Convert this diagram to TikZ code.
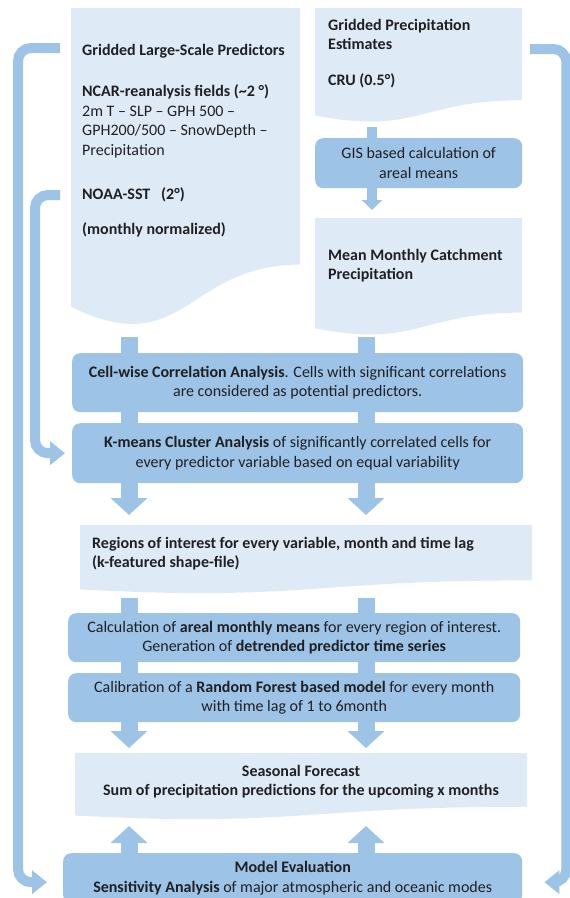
\documentclass[tikz,border=0pt]{standalone}
\usepackage{fontspec}
\setmainfont{Carlito}
\usetikzlibrary{calc,arrows.meta}

\definecolor{boxblue}{RGB}{157,195,230}
\definecolor{docblue}{RGB}{222,235,247}
\definecolor{inkgray}{RGB}{32,32,36}

% wavy bottom of a document node
\newcommand{\docbg}[1]{%
  \fill[docblue] (#1.north west) -- (#1.north east)
    -- ($(#1.north east)!0.802!(#1.south east)$)
    .. controls ($(#1.north)!0.802!(#1.south)$) and ($(#1.north)!1.107!(#1.south)$)
    .. ($(#1.north west)!0.934!(#1.south west)$) -- cycle;}

\begin{document}
\begin{tikzpicture}[x=1pt,y=-1pt,
  font=\fontsize{16}{19.5}\selectfont, text=inkgray,
  docframe/.style={anchor=north west, inner sep=0pt, outer sep=0pt},
  doctext/.style={anchor=north west, inner sep=0pt, align=left},
  box/.style={anchor=north west, fill=boxblue, rounded corners=8pt, align=center, inner sep=0pt},
  biglink/.style={boxblue, line width=17pt},
  bigflow/.style={biglink, -{Triangle[width=36pt,length=17pt]}},
  smalllink/.style={boxblue, line width=10pt},
  smallflow/.style={smalllink, -{Triangle[width=20pt,length=10pt]}},
  feedback/.style={boxblue, line width=10pt, rounded corners=13pt, -{Triangle[width=23pt,length=15pt]}}]

\useasboundingbox (0,0) rectangle (570,898);

% Documents
\node[docframe, minimum width=229pt, minimum height=320pt] (gp) at (71,8) {};
\node[docframe, minimum width=207pt, minimum height=115pt] (gpe) at (315,8) {};
\node[docframe, minimum width=207pt, minimum height=118pt] (mmp) at (315,218) {};
\node[docframe, minimum width=452pt, minimum height=69pt] (roi) at (80,525) {};
\node[docframe, minimum width=452pt, minimum height=67pt] (sf) at (75,753) {};

\foreach \d in {gp,gpe,mmp,roi,sf}
  \docbg{\d};

\node[doctext] (gptext) at ($(gp.north west)+(11,36)$)
  {\textbf{Gridded Large-Scale Predictors}\\[22pt]
   \textbf{NCAR-reanalysis fields (\textasciitilde2 °)}\\
   2m T -- SLP -- GPH 500 --\\
   GPH200/500 -- SnowDepth --\\
   Precipitation\\[25pt]
   \textbf{NOAA-SST\ \ \ (2°)}\\[15pt]
   \textbf{(monthly normalized)}};
\node[doctext] (gpetext) at ($(gpe.north west)+(13,11)$)
  {\textbf{Gridded Precipitation}\\\textbf{Estimates}\\[16pt]\textbf{CRU (0.5°)}};
\node[doctext] (mmptext) at ($(mmp.north west)+(13,31)$)
  {\textbf{Mean Monthly Catchment}\\\textbf{Precipitation}};
\node[doctext] (roitext) at ($(roi.north west)+(12,12)$)
  {\textbf{Regions of interest for every variable, month and time lag}\\\textbf{(k-featured shape-file)}};
\node[doctext, anchor=north, align=center] (sftext) at ($(sf.north)+(0,12)$)
  {\textbf{Seasonal Forecast}\\\textbf{Sum of precipitation predictions for the upcoming x months}};

% Process boxes
\node[box, minimum width=207pt, minimum height=50pt] (gis) at (315,138)
  {GIS based calculation of\\areal means};
\node[box, minimum width=451pt, minimum height=59pt] (cwc) at (72,353)
  {\textbf{Cell-wise Correlation Analysis}. Cells with significant correlations\\are considered as potential predictors.};
\node[box, minimum width=451pt, minimum height=60pt] (kmc) at (72,423)
  {\textbf{K-means Cluster Analysis} of significantly correlated cells for\\every predictor variable based on equal variability};
\node[box, minimum width=452pt, minimum height=49pt] (calc) at (68,613)
  {Calculation of \textbf{areal monthly means} for every region of interest.\\Generation of \textbf{detrended predictor time series}};
\node[box, minimum width=452pt, minimum height=49pt] (calib) at (68,673)
  {Calibration of a \textbf{Random Forest based model} for every month\\with time lag of 1 to 6month};
\node[box, minimum width=459pt, minimum height=50pt] (meval) at (63,853)
  {\textbf{Model Evaluation}\\\textbf{Sensitivity Analysis} of major atmospheric and oceanic modes};

% Columns of arrows
\coordinate (colL) at (129,0);
\coordinate (colR) at (366,0);
\coordinate (colG) at (372,0);

\draw[smalllink] ($(gpe.south -| colG)+(0,4)$) -- (gis.north -| colG);
\draw[smallflow] (gis.south -| colG) -- ($(mmp.north -| colG)+(0,-8)$);

\draw[biglink] ($(gp.south -| colL)+(0,9)$) -- (cwc.north -| colL);
\draw[biglink] ($(mmp.south -| colR)+(0,1)$) -- (cwc.north -| colR);

\foreach \c in {colL,colR} {
  \draw[biglink] (cwc.south -| \c) -- (kmc.north -| \c);
  \draw[bigflow] (kmc.south -| \c) -- ($(roi.north -| \c)+(0,-10)$);
  \draw[biglink] ($(roi.south -| \c)+(0,4)$) -- (calc.north -| \c);
  \draw[biglink] (calc.south -| \c) -- (calib.north -| \c);
  \draw[bigflow] (calib.south -| \c) -- ($(sf.north -| \c)+(0,-5)$);
  \draw[bigflow] (meval.north -| \c) -- ($(sf.south -| \c)+(0,6)$);
}

% Feedback loops
\draw[feedback] ($(gp.north west)+(-11,40)$) -| ($(meval.west)+(-45,4)$) -- ($(meval.west)+(-16,4)$);
\draw[feedback] ($(gp.north west)+(-11,187)$) -| ($(kmc.west)+(-37,0)$) -- ($(kmc.west)+(-7,0)$);
\draw[feedback] ($(gpe.north east)+(8,41)$) -| ($(meval.east)+(44,4)$) -- ($(meval.east)+(22,4)$);

\end{tikzpicture}
\end{document}
